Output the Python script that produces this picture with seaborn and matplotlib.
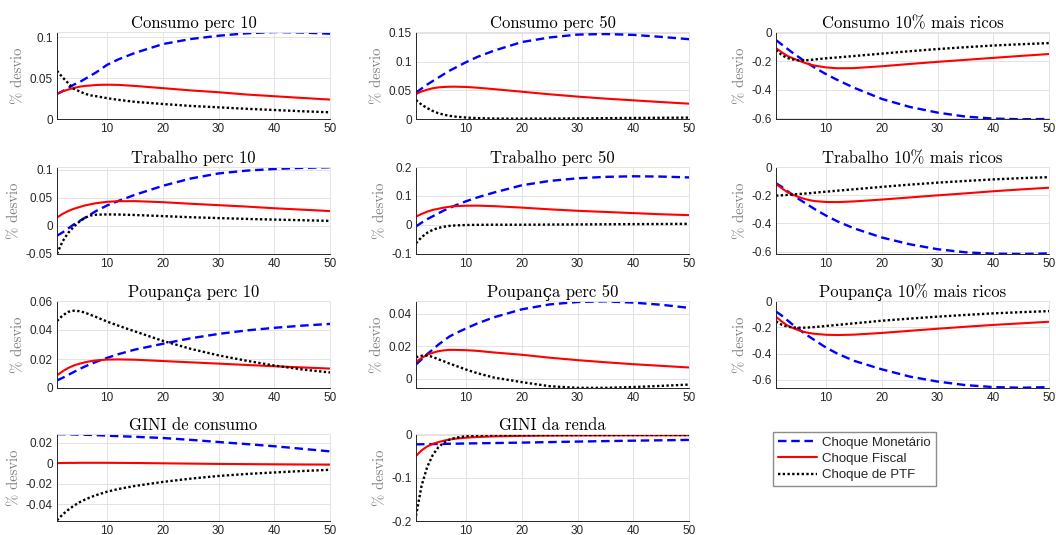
import matplotlib
matplotlib.use("Agg")
import matplotlib.pyplot as plt
from matplotlib.ticker import FuncFormatter, FixedLocator
from matplotlib.lines import Line2D
import pandas as pd
import seaborn as sns

# Horizon (periods after the shock)
periods = [1, 2, 3, 4, 5, 6, 7, 8, 10, 12, 15, 20, 25, 30, 35, 40, 45, 50]

shock_names = ["Choque Monetário", "Choque Fiscal", "Choque de PTF"]

# Consumo perc 10
cons10_mon = [0.0307, 0.034, 0.038, 0.042, 0.045, 0.049, 0.053, 0.057, 0.0664, 0.073, 0.081, 0.0918, 0.098, 0.102, 0.105, 0.1066, 0.106, 0.1045]
cons10_fis = [0.031, 0.034, 0.036, 0.038, 0.0395, 0.0405, 0.041, 0.0417, 0.042, 0.0418, 0.0405, 0.0378, 0.035, 0.0328, 0.030, 0.0279, 0.0258, 0.0238]
cons10_ptf = [0.059, 0.051, 0.044, 0.037, 0.034, 0.031, 0.029, 0.028, 0.0255, 0.0235, 0.021, 0.0184, 0.016, 0.0143, 0.0125, 0.011, 0.0095, 0.0082]

# Consumo perc 50
cons50_mon = [0.046, 0.053, 0.060, 0.066, 0.072, 0.078, 0.084, 0.089, 0.099, 0.108, 0.119, 0.134, 0.142, 0.147, 0.148, 0.1465, 0.143, 0.139]
cons50_fis = [0.0435, 0.048, 0.051, 0.0535, 0.055, 0.0558, 0.0562, 0.0563, 0.0558, 0.0545, 0.052, 0.0475, 0.043, 0.039, 0.0355, 0.0325, 0.0295, 0.0267]
cons50_ptf = [0.033, 0.025, 0.019, 0.014, 0.010, 0.0075, 0.0055, 0.0042, 0.0025, 0.0015, 0.0008, 0.0005, 0.0007, 0.001, 0.0014, 0.0018, 0.0021, 0.0024]

# Consumo 10% mais ricos
consr_mon = [-0.05, -0.08, -0.11, -0.14, -0.167, -0.195, -0.22, -0.245, -0.29, -0.33, -0.385, -0.464, -0.52, -0.56, -0.588, -0.602, -0.607, -0.605]
consr_fis = [-0.107, -0.135, -0.16, -0.178, -0.193, -0.208, -0.22, -0.23, -0.242, -0.248, -0.247, -0.234, -0.218, -0.203, -0.189, -0.175, -0.161, -0.148]
consr_ptf = [-0.12, -0.155, -0.175, -0.186, -0.192, -0.193, -0.19, -0.186, -0.178, -0.172, -0.162, -0.145, -0.128, -0.113, -0.1, -0.088, -0.079, -0.071]

# Trabalho perc 10
trab10_mon = [-0.018, -0.012, -0.005, 0.002, 0.008, 0.014, 0.020, 0.026, 0.036, 0.044, 0.055, 0.071, 0.084, 0.093, 0.098, 0.101, 0.103, 0.104]
trab10_fis = [0.0145, 0.021, 0.026, 0.030, 0.033, 0.036, 0.038, 0.040, 0.0425, 0.0435, 0.0437, 0.0418, 0.039, 0.0365, 0.034, 0.031, 0.0285, 0.026]
trab10_ptf = [-0.05, -0.028, -0.013, -0.002, 0.007, 0.014, 0.018, 0.0195, 0.020, 0.0198, 0.019, 0.017, 0.015, 0.0135, 0.012, 0.0108, 0.0097, 0.0085]

# Trabalho perc 50
trab50_mon = [-0.005, 0.008, 0.02, 0.030, 0.040, 0.050, 0.059, 0.067, 0.082, 0.095, 0.112, 0.137, 0.152, 0.161, 0.166, 0.168, 0.167, 0.164]
trab50_fis = [0.029, 0.038, 0.046, 0.052, 0.056, 0.060, 0.063, 0.065, 0.0665, 0.0667, 0.065, 0.060, 0.054, 0.049, 0.045, 0.041, 0.037, 0.034]
trab50_ptf = [-0.063, -0.042, -0.027, -0.017, -0.010, -0.006, -0.003, -0.0015, 0.0, 0.0005, 0.001, 0.001, 0.0015, 0.002, 0.0025, 0.003, 0.0035, 0.004]

# Trabalho 10% mais ricos
trabr_mon = [-0.115, -0.14, -0.17, -0.198, -0.225, -0.25, -0.275, -0.30, -0.345, -0.385, -0.435, -0.50, -0.548, -0.583, -0.605, -0.615, -0.617, -0.613]
trabr_fis = [-0.12, -0.15, -0.177, -0.196, -0.212, -0.225, -0.235, -0.242, -0.248, -0.249, -0.244, -0.231, -0.216, -0.201, -0.187, -0.172, -0.159, -0.147]
trabr_ptf = [-0.203, -0.201, -0.198, -0.195, -0.192, -0.189, -0.186, -0.182, -0.175, -0.168, -0.158, -0.141, -0.125, -0.111, -0.099, -0.088, -0.079, -0.072]

# Poupança perc 10
poup10_mon = [0.0052, 0.007, 0.009, 0.011, 0.013, 0.0148, 0.0165, 0.018, 0.0208, 0.0233, 0.0265, 0.0305, 0.0343, 0.0373, 0.0397, 0.0415, 0.043, 0.0442]
poup10_fis = [0.0088, 0.0115, 0.0138, 0.0155, 0.0167, 0.0177, 0.0185, 0.019, 0.0196, 0.0197, 0.0195, 0.0186, 0.0177, 0.0168, 0.0159, 0.015, 0.0142, 0.0134]
poup10_ptf = [0.0462, 0.050, 0.0525, 0.0533, 0.053, 0.052, 0.0505, 0.049, 0.0458, 0.043, 0.039, 0.0325, 0.027, 0.0225, 0.0188, 0.0155, 0.0128, 0.0107]

# Poupança perc 50
poup50_mon = [0.0088, 0.012, 0.0152, 0.018, 0.021, 0.0235, 0.026, 0.0278, 0.031, 0.034, 0.0378, 0.0427, 0.0457, 0.0472, 0.0476, 0.0468, 0.0455, 0.0436]
poup50_fis = [0.0105, 0.0128, 0.0148, 0.016, 0.017, 0.0175, 0.0178, 0.0178, 0.0176, 0.0172, 0.0162, 0.0148, 0.013, 0.0115, 0.0102, 0.009, 0.008, 0.007]
poup50_ptf = [0.0133, 0.0142, 0.0143, 0.0135, 0.012, 0.0108, 0.0094, 0.0082, 0.0057, 0.0035, 0.0008, -0.002, -0.0045, -0.0055, -0.0055, -0.005, -0.0043, -0.0035]

# Poupança 10% mais ricos
poupr_mon = [-0.08, -0.11, -0.145, -0.18, -0.213, -0.243, -0.272, -0.30, -0.355, -0.40, -0.455, -0.52, -0.575, -0.613, -0.64, -0.655, -0.66, -0.655]
poupr_fis = [-0.12, -0.155, -0.185, -0.205, -0.222, -0.235, -0.244, -0.25, -0.257, -0.259, -0.256, -0.243, -0.227, -0.211, -0.196, -0.182, -0.17, -0.158]
poupr_ptf = [-0.155, -0.18, -0.195, -0.201, -0.203, -0.203, -0.201, -0.198, -0.19, -0.182, -0.17, -0.15, -0.134, -0.119, -0.106, -0.094, -0.085, -0.077]

# GINI de consumo
ginic_mon = [0.0282, 0.0281, 0.028, 0.0279, 0.0277, 0.0276, 0.0274, 0.0272, 0.0267, 0.0262, 0.0256, 0.0244, 0.0226, 0.0205, 0.0185, 0.0164, 0.0139, 0.0114]
ginic_fis = [0.0, 0.0001, 0.0002, 0.0002, 0.0003, 0.0003, 0.0003, 0.0003, 0.0003, 0.0002, 0.0001, -0.0002, -0.0005, -0.0008, -0.001, -0.0012, -0.0014, -0.0015]
ginic_ptf = [-0.0556, -0.05, -0.0455, -0.0415, -0.0382, -0.0355, -0.0332, -0.0312, -0.0278, -0.0252, -0.0222, -0.0183, -0.0151, -0.0125, -0.0106, -0.0091, -0.0077, -0.0065]

# GINI da renda
ginir_mon = [-0.022, -0.0218, -0.0216, -0.0214, -0.0212, -0.021, -0.0207, -0.0205, -0.02, -0.0196, -0.019, -0.018, -0.0168, -0.0156, -0.0145, -0.0135, -0.0126, -0.0117]
ginir_fis = [-0.049, -0.036, -0.027, -0.021, -0.017, -0.0135, -0.011, -0.009, -0.0065, -0.005, -0.0035, -0.0023, -0.0017, -0.0014, -0.0012, -0.0011, -0.001, -0.001]
ginir_ptf = [-0.188, -0.118, -0.075, -0.047, -0.029, -0.018, -0.011, -0.007, -0.003, -0.0015, -0.0008, -0.0005, -0.0004, -0.0003, -0.0003, -0.0002, -0.0002, -0.0002]

titles = ["Consumo perc 10", "Consumo perc 50", "Consumo 10% mais ricos",
          "Trabalho perc 10", "Trabalho perc 50", "Trabalho 10% mais ricos",
          "Poupança perc 10", "Poupança perc 50", "Poupança 10% mais ricos",
          "GINI de consumo", "GINI da renda"]

series = [
    (cons10_mon, cons10_fis, cons10_ptf),
    (cons50_mon, cons50_fis, cons50_ptf),
    (consr_mon, consr_fis, consr_ptf),
    (trab10_mon, trab10_fis, trab10_ptf),
    (trab50_mon, trab50_fis, trab50_ptf),
    (trabr_mon, trabr_fis, trabr_ptf),
    (poup10_mon, poup10_fis, poup10_ptf),
    (poup50_mon, poup50_fis, poup50_ptf),
    (poupr_mon, poupr_fis, poupr_ptf),
    (ginic_mon, ginic_fis, ginic_ptf),
    (ginir_mon, ginir_fis, ginir_ptf),
]

yticks = [
    [0, 0.05, 0.1], [0, 0.05, 0.1, 0.15], [-0.6, -0.4, -0.2, 0],
    [-0.05, 0, 0.05, 0.1], [-0.1, 0, 0.1, 0.2], [-0.6, -0.4, -0.2, 0],
    [0, 0.02, 0.04, 0.06], [0, 0.02, 0.04], [-0.6, -0.4, -0.2, 0],
    [-0.04, -0.02, 0, 0.02], [-0.2, -0.1, 0],
]

xticks = [10, 20, 30, 40, 50]

# ---------------------------------------------------------------- styling
sns.set_theme(style="white")
plt.rcParams["font.family"] = ["Liberation Sans", "DejaVu Sans"]
plt.rcParams["axes.unicode_minus"] = False

title_font = ["cmr10", "DejaVu Serif"]
ink = "#262626"
grid_c = "#e3e3e3"

line_styles = [
    dict(color="#0000ff", linestyle=(0, (3.6, 2.0)), linewidth=1.7),
    dict(color="#ff0000", linestyle="-", linewidth=1.5),
    dict(color="#000000", linestyle=(0, (1, 1.0)), linewidth=1.7),
]

# axes limits (y) per panel
ylims = [
    (0, 0.1066), (0, 0.1515), (-0.605, 0.007),
    (-0.0505, 0.1045), (-0.1, 0.2), (-0.617, 0.0),
    (0, 0.06), (-0.0056, 0.0478), (-0.662, 0.0),
    (-0.0563, 0.0283), (-0.2, 0.002),
]

W, H = 1056, 535
col_left = [57, 416, 776]
row_top = [32, 167, 301, 434]
ax_w, ax_h = 273, 87

fig = plt.figure(figsize=(W / 100, H / 100), dpi=100)
fig.patch.set_facecolor("white")

fmt = FuncFormatter(lambda v, _: ("%g" % round(v, 6)).replace("−", "-"))

for i, (title, trio) in enumerate(zip(titles, series)):
    r, c = divmod(i, 3)
    left = col_left[c] / W
    bottom = 1 - (row_top[r] + ax_h) / H
    ax = fig.add_axes([left, bottom, ax_w / W, ax_h / H])

    for vals, name, st in zip(trio, shock_names, line_styles):
        df = pd.DataFrame({"periodo": periods, "desvio": vals})
        sns.lineplot(data=df, x="periodo", y="desvio", ax=ax, legend=False,
                     solid_capstyle="butt", dash_capstyle="butt", **st)

    ax.set_xlim(1, 50)
    ax.set_ylim(*ylims[i])
    ax.xaxis.set_major_locator(FixedLocator(xticks))
    ax.yaxis.set_major_locator(FixedLocator(yticks[i]))
    ax.yaxis.set_major_formatter(fmt)
    ax.grid(True, color=grid_c, linewidth=0.7)
    ax.set_axisbelow(True)
    ax.tick_params(direction="in", length=3, width=0.6, colors=ink,
                   labelsize=8.5, pad=3)
    for side in ("left", "bottom"):
        ax.spines[side].set_color(ink)
        ax.spines[side].set_linewidth(0.7)
    for side in ("top", "right"):
        ax.spines[side].set_color(grid_c)
        ax.spines[side].set_linewidth(0.7)
    ax.set_xlabel("")
    ax.set_ylabel("% desvio", family=title_font, fontsize=10.5,
                  color="#808080", labelpad=3)
    ax.set_title(title, family=title_font, fontsize=12, color="#000000", pad=3)

handles = [Line2D([], [], **st) for st in line_styles]
fig.legend(handles, shock_names, loc="upper left",
           bbox_to_anchor=(773 / W, 1 - 432 / H), frameon=True, fancybox=False,
           edgecolor="#8c8c8c", framealpha=1, fontsize=9.5, handlelength=3.0,
           handletextpad=0.4, labelspacing=0.3, borderpad=0.35,
           borderaxespad=0)

fig.savefig("out.png", dpi=100, facecolor="white")
